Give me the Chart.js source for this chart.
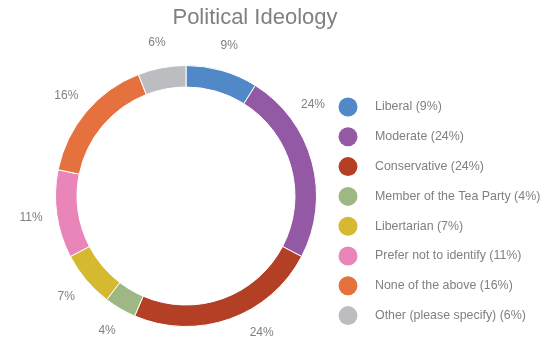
<!DOCTYPE html>
<html>
<head>
<meta charset="utf-8">
<script src="https://cdn.jsdelivr.net/npm/chart.js@4.4.0/dist/chart.umd.min.js"></script>
<style>
  html, body { margin: 0; padding: 0; background: #fff; }
  #wrap { width: 550px; height: 341px; }
</style>
</head>
<body>
<div id="wrap"><canvas id="chart" width="550" height="341"></canvas></div>
<script>
var categories = ['Liberal', 'Moderate', 'Conservative', 'Member of the Tea Party',
  'Libertarian', 'Prefer not to identify', 'None of the above', 'Other (please specify)'];
var shares = [9, 24, 24, 4, 7, 11, 16, 6];
var colors = ['#5088c8', '#9459a5', '#b33f25', '#9fb784', '#d5b930', '#e985b8', '#e5713f', '#bcbdc0'];

var textGray = '#808080';
var fontFamily = '"Liberation Sans", Arial, sans-serif';

// title centred over the whole canvas, not just the ring
var topTitle = {
  id: 'topTitle',
  afterDraw: function(chart) {
    var ctx = chart.ctx;
    ctx.save();
    ctx.font = '22px ' + fontFamily;
    ctx.fillStyle = textGray;
    ctx.textAlign = 'center';
    ctx.textBaseline = 'middle';
    ctx.fillText('Political Ideology', 255, 18);
    ctx.restore();
  }
};

// percentage labels just outside the ring, kept inside the plot box
var outsideLabels = {
  id: 'outsideLabels',
  afterDatasetsDraw: function(chart) {
    var ctx = chart.ctx;
    var meta = chart.getDatasetMeta(0);
    ctx.save();
    ctx.font = '12px ' + fontFamily;
    ctx.fillStyle = textGray;
    ctx.textAlign = 'center';
    ctx.textBaseline = 'middle';
    meta.data.forEach(function(arc, i) {
      var r = arc.outerRadius + 26;
      var mid = (arc.startAngle + arc.endAngle) / 2;
      var dx = Math.cos(mid) * r;
      var dy = Math.sin(mid) * r;
      // slide along the circle when the label would run into the legend or off the bottom
      var maxDx = 127, maxDy = 137;
      if (dx > maxDx) {
        dx = maxDx;
        dy = (dy < 0 ? -1 : 1) * Math.sqrt(r * r - dx * dx);
      }
      if (dy > maxDy) {
        dy = maxDy;
        dx = (dx < 0 ? -1 : 1) * Math.sqrt(r * r - dy * dy);
      }
      ctx.fillText(shares[i] + '%', arc.x + dx, arc.y + dy);
    });
    ctx.restore();
  }
};

// legend with round markers on the right
var sideLegend = {
  id: 'sideLegend',
  afterDraw: function(chart) {
    var ctx = chart.ctx;
    ctx.save();
    ctx.font = '12.4px ' + fontFamily;
    ctx.textBaseline = 'middle';
    ctx.textAlign = 'left';
    categories.forEach(function(name, i) {
      var y = 107 + i * 29.8;
      ctx.beginPath();
      ctx.arc(348, y, 9.5, 0, Math.PI * 2);
      ctx.fillStyle = colors[i];
      ctx.fill();
      ctx.fillStyle = textGray;
      ctx.fillText(name + ' (' + shares[i] + '%)', 375, y);
    });
    ctx.restore();
  }
};

new Chart(document.getElementById('chart'), {
  type: 'doughnut',
  data: {
    labels: categories,
    datasets: [{
      data: shares,
      backgroundColor: colors,
      borderColor: '#ffffff',
      borderWidth: 1
    }]
  },
  options: {
    responsive: false,
    animation: false,
    cutout: '83.5%',
    layout: { padding: { left: 55, top: 65, right: 233, bottom: 14 } },
    plugins: {
      legend: { display: false },
      tooltip: { enabled: false },
      title: { display: false }
    }
  },
  plugins: [outsideLabels, sideLegend, topTitle]
});
</script>
</body>
</html>
